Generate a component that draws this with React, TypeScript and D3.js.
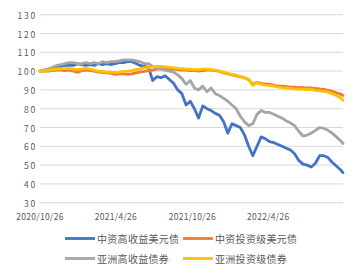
import React from "react";
import * as d3 from "d3";

const dates = [
  "2020-10-26","2020-11-05","2020-11-15","2020-11-25","2020-12-05","2020-12-15","2020-12-25",
  "2021-01-04","2021-01-14","2021-01-24","2021-02-03","2021-02-13","2021-02-23","2021-03-05",
  "2021-03-15","2021-03-25","2021-04-04","2021-04-14","2021-04-24","2021-05-04","2021-05-14",
  "2021-05-24","2021-06-03","2021-06-13","2021-06-23","2021-07-03","2021-07-13","2021-07-23",
  "2021-08-02","2021-08-12","2021-08-22","2021-09-01","2021-09-11","2021-09-21","2021-10-01",
  "2021-10-11","2021-10-21","2021-10-31","2021-11-10","2021-11-20","2021-11-30","2021-12-10",
  "2021-12-20","2021-12-30","2022-01-09","2022-01-19","2022-01-29","2022-02-08","2022-02-18",
  "2022-02-28","2022-03-10","2022-03-20","2022-03-30","2022-04-09","2022-04-19","2022-04-29",
  "2022-05-09","2022-05-19","2022-05-29","2022-06-08","2022-06-18","2022-06-28","2022-07-08",
  "2022-07-18","2022-07-28","2022-08-07","2022-08-17","2022-08-27","2022-09-06","2022-09-16",
  "2022-09-26","2022-10-06","2022-10-16","2022-10-22",
];

const chinaHY = [
  100,100.5,101,101.8,102.5,102.5,103,103.2,103,103.8,103.5,103,103.5,103,104,103.5,104,103.5,104,104.5,
  104.5,105,105,104,103,102.5,102,95,97,96.5,97.5,95.5,93.5,90,88,82,84,80,75,81.5,
  80,79,77.5,76.5,73,67,72,71,70,66,60,55,60,65,64,62.5,62,61,60,59,
  58,56,52.5,50.5,50,49,51,55,55,54,51.5,49.5,47.5,46,
];
const chinaIG = [
  100,100,100,100.3,100.5,100.5,100.3,100.5,100,99.3,100.2,100.5,100.3,100,99.5,99.3,99,98.8,98.2,98.5,
  98.5,98.3,98.5,99,99.5,99.8,100.2,100.5,101,101.2,101.3,101.2,101,100.8,100.5,100.5,100.3,100.2,100,100.3,
  100.5,100.5,100.2,99.8,99,98.5,98,97.5,97,96.5,95.5,93,94,93.5,93.2,93,92.5,92,92,91.8,
  91.5,91.5,91.2,91.3,91,91,90.8,90.5,90.3,89.8,89.3,88.5,87.8,87,
];
const asiaHY = [
  100,100.5,101,102,103,103.5,104,104.5,104.5,104,104,104.5,104,104.5,104,105,104.5,105,105,105.5,
  106,106,106,105.5,105,104,104,102.5,101.5,101,100.5,100,99.5,98,96,93,95,91,90,92,
  89,91,88,87,85.5,84,82,80,76,73,71,72,77,79,78,78,77,76,75,73.5,
  72.5,71,68,65.5,66,67,68.5,70,69.5,68.5,67,65,63,61.5,
];
const asiaIG = [
  100,100.2,100.5,100.8,101,101.2,101.3,101.5,101,100.8,101.2,101.5,101,100.5,100,99.8,99.5,99.5,99.3,99.5,
  99.8,100,100.3,100.8,101.2,101.8,102,102.3,102.5,102.5,102.3,102,101.8,101.5,101.3,101,101,100.8,100.8,101,
  101,100.8,100.5,100,99.3,98.8,98.3,97.8,97,96.5,95.3,92.5,93.8,93,92.5,92.3,92,91.5,91.2,91,
  90.8,90.5,90.3,90.5,90.2,90.3,89.8,89.5,89.2,88.8,88,87,85.8,84.5,
];

const seriesNames = ["中资高收益美元债", "中资投资级美元债", "亚洲高收益债券", "亚洲投资级债券"];
const seriesColors = ["#4472C4", "#ED7D31", "#A5A5A5", "#FFC000"];
const seriesValues = [chinaHY, chinaIG, asiaHY, asiaIG];
const drawOrder = [0, 1, 2, 3];

const yTicks = [30, 40, 50, 60, 70, 80, 90, 100, 110, 120, 130];
const xTickDates = ["2020-10-26", "2021-04-26", "2021-10-26", "2022-04-26"];
const xTickLabels = ["2020/10/26", "2021/4/26", "2021/10/26", "2022/4/26"];

export default function App() {
  const W = 361, H = 275;
  const left = 40, right = 343, top = 14.7, bottom = 202.7;
  const parse = d3.timeParse("%Y-%m-%d");
  const xDates = dates.map((d) => parse(d) as Date);
  const x = d3.scaleTime().domain([xDates[0], xDates[xDates.length - 1]]).range([left, right]);
  const y = d3.scaleLinear().domain([30, 130]).range([bottom, top]);
  const line = d3.line<number>().x((_, i) => x(xDates[i])).y((v) => y(v)).curve(d3.curveLinear);
  const font = "'Noto Sans CJK SC', 'Noto Sans', sans-serif";

  return (
    <svg width={W} height={H} style={{ position: "absolute", left: 0, top: 0, background: "#fff" }}>
      {yTicks.map((t) => (
        <g key={t}>
          <line x1={left} x2={right} y1={y(t)} y2={y(t)} stroke="#d9d9d9" strokeWidth={1} />
          <text x={37} y={y(t)} textAnchor="end" dominantBaseline="central" fontSize={8.5}
            fill="#595959" fontFamily={font} letterSpacing={1.8}>{t}</text>
        </g>
      ))}
      {xTickDates.map((d, i) => (
        <text key={d} x={x(parse(d) as Date)} y={220} textAnchor="middle" fontSize={8.5}
          fill="#595959" fontFamily={font} letterSpacing={0.3}>{xTickLabels[i]}</text>
      ))}
      {drawOrder.map((s) => (
        <path key={s} d={line(seriesValues[s]) || ""} fill="none" stroke={seriesColors[s]}
          strokeWidth={2.8} strokeLinejoin="round" strokeLinecap="round" />
      ))}
      {seriesNames.map((n, i) => {
        const col = i % 2, row = Math.floor(i / 2);
        const lx = col === 0 ? 65 : 183;
        const ly = row === 0 ? 238.5 : 258.5;
        return (
          <g key={n}>
            <line x1={lx} x2={lx + 30} y1={ly} y2={ly} stroke={seriesColors[i]} strokeWidth={2.8} />
            <text x={lx + 32} y={ly} dominantBaseline="central" fontSize={10} fill="#595959"
              fontFamily={font} letterSpacing={0.3}>{n}</text>
          </g>
        );
      })}
    </svg>
  );
}
